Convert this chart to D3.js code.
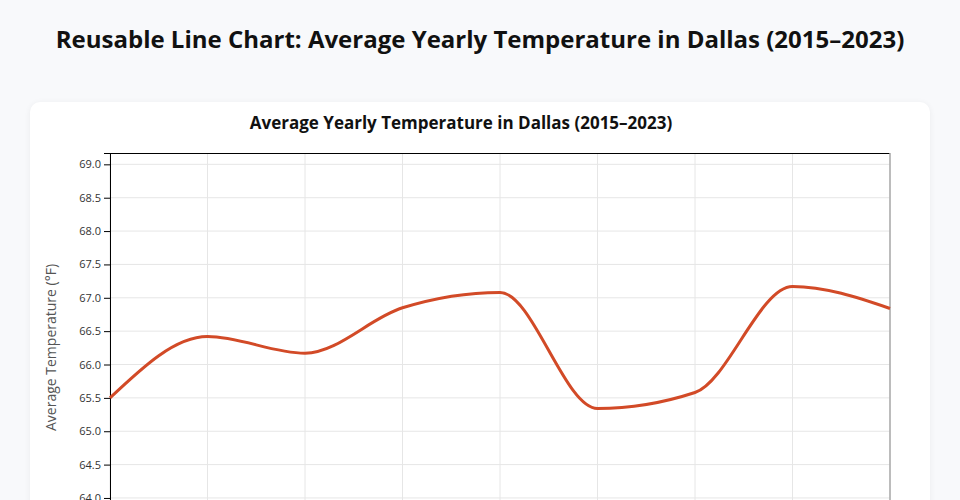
<!DOCTYPE html>
<html>
<head>
<meta charset="utf-8">
<script src="https://cdn.jsdelivr.net/npm/d3@7"></script>
<style>
  body { margin: 0; background: #f8f9fb; font-family: 'Open Sans', sans-serif; }
  h1 { margin: 0; padding-top: 22px; text-align: center; font-size: 24px; font-weight: 700; color: #111; height: 80px; box-sizing: border-box; }
  .card { position: absolute; left: 30px; top: 102px; width: 900px; height: 460px; background: #fff; border-radius: 10px; box-shadow: 0 1px 6px rgba(0,0,0,0.06); }
  .tick text { font-family: 'Open Sans', sans-serif; font-size: 11px; fill: #333; }
</style>
</head>
<body>
<h1>Reusable Line Chart: Average Yearly Temperature in Dallas (2015–2023)</h1>
<div class="card"><svg id="chart"></svg></div>
<script>
const years = [2015, 2016, 2017, 2018, 2019, 2020, 2021, 2022, 2023];
const temps = [65.5, 66.42, 66.17, 66.85, 67.08, 65.34, 65.58, 67.17, 66.84];

const width = 900, height = 460;
const margin = { top: 51, right: 40, bottom: 20, left: 80 };
const plotBottom = 440;

const svg = d3.select('#chart').attr('width', width).attr('height', height);

const x = d3.scaleLinear()
  .domain(d3.extent(years))
  .range([margin.left, width - margin.right]);

const y = d3.scaleLinear()
  .domain([d3.min(temps) - 2, d3.max(temps) + 2])
  .range([plotBottom, margin.top]);

// title
svg.append('text')
  .attr('x', 431)
  .attr('y', 27)
  .attr('text-anchor', 'middle')
  .style('font-size', '17px')
  .style('font-weight', 700)
  .style('fill', '#111')
  .text('Average Yearly Temperature in Dallas (2015–2023)');

// grid
svg.append('g')
  .selectAll('line')
  .data(y.ticks(12))
  .join('line')
  .attr('x1', margin.left).attr('x2', width - margin.right)
  .attr('y1', d => y(d)).attr('y2', d => y(d))
  .attr('stroke', '#e6e6e6');

svg.append('g')
  .selectAll('line')
  .data(years)
  .join('line')
  .attr('x1', d => x(d)).attr('x2', d => x(d))
  .attr('y1', margin.top).attr('y2', plotBottom)
  .attr('stroke', '#e6e6e6');

// frame: top black, right grey
svg.append('line')
  .attr('x1', margin.left - 6).attr('x2', width - margin.right)
  .attr('y1', margin.top + 0.5).attr('y2', margin.top + 0.5)
  .attr('stroke', '#000');
svg.append('line')
  .attr('x1', width - margin.right).attr('x2', width - margin.right)
  .attr('y1', margin.top).attr('y2', plotBottom)
  .attr('stroke', '#aaa')
  .attr('stroke-width', 1.5);

// axes
svg.append('g')
  .attr('transform', `translate(${margin.left},0)`)
  .call(d3.axisLeft(y).ticks(12).tickFormat(d3.format('.1f')))
  .call(g => g.select('.domain').attr('stroke', '#000'));

svg.append('g')
  .attr('transform', `translate(0,${plotBottom})`)
  .call(d3.axisBottom(x).tickValues(years).tickFormat(d3.format('d')));

svg.append('text')
  .attr('transform', `translate(21,${(margin.top + plotBottom) / 2}) rotate(-90)`)
  .attr('text-anchor', 'middle')
  .attr('dy', '0.35em')
  .style('font-size', '14px')
  .style('fill', '#555')
  .text('Average Temperature (°F)');

// line
const line = d3.line()
  .x((d, i) => x(years[i]))
  .y(d => y(d))
  .curve(d3.curveMonotoneX);

svg.append('path')
  .datum(temps)
  .attr('fill', 'none')
  .attr('stroke', '#d24a27')
  .attr('stroke-width', 3)
  .attr('d', line);
</script>
</body>
</html>
